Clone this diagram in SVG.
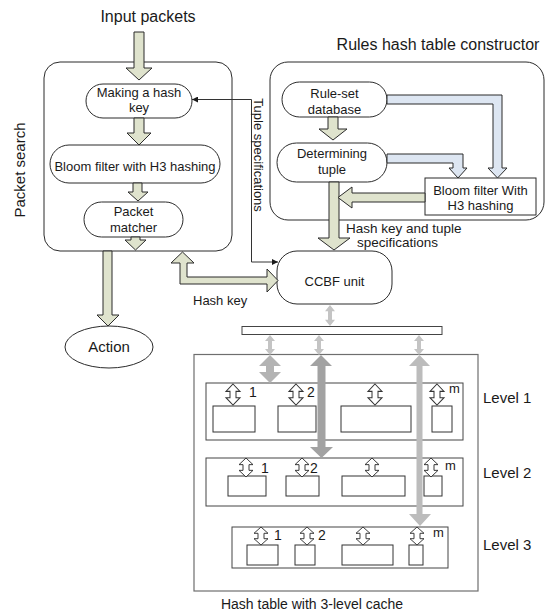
<svg xmlns="http://www.w3.org/2000/svg" xmlns:xlink="http://www.w3.org/1999/xlink" width="545" height="613" viewBox="0 0 545 613">
  <style>
    text { font-family: "Liberation Sans", Arial, sans-serif; fill: #1a1a1a; }
    .t16 { font-size: 16px; }
    .t15 { font-size: 15px; }
    .t14 { font-size: 14px; }
    .t13 { font-size: 13px; }
    .mid { text-anchor: middle; }
    .box { fill: #ffffff; stroke: #2b2b2b; stroke-width: 1; }
    .grp { fill: none; stroke: #2b2b2b; stroke-width: 1; }
    .olive { fill: #dfe3cd; stroke: #2b2b2b; stroke-width: 1; stroke-linejoin: miter; }
    .blue { fill: #dde6f2; stroke: #2b2b2b; stroke-width: 1; }
    .cell { fill: #ffffff; stroke: #333333; stroke-width: 1; }
    .lvl { fill: #ffffff; stroke: #444444; stroke-width: 1; }
    .port { fill: #ffffff; stroke: #333333; stroke-width: 1; }
    .thin { fill: none; stroke: #333333; stroke-width: 1; }
  </style>
  <defs>
    <marker id="tip" viewBox="0 0 10 10" refX="10" refY="5" markerWidth="6" markerHeight="6" orient="auto-start-reverse" markerUnits="userSpaceOnUse">
      <path d="M0,0 L10,5 L0,10 Z" fill="#1a1a1a"/>
    </marker>
    <!-- small hollow two-way port arrow, 20 units tall -->
    <path id="port" d="M0,0 L7,7 L3,7 L3,13 L7,13 L0,20 L-7,13 L-3,13 L-3,7 L-7,7 Z"/>
    <!-- thin grey two-way link, 20 units tall -->
    <path id="link" d="M0,0 L5,6 L2,6 L2,14 L5,14 L0,20 L-5,14 L-2,14 L-2,6 L-5,6 Z"/>
  </defs>

  <!-- titles -->
  <text class="t16 mid" x="148" y="22">Input packets</text>
  <text class="t16 mid" x="438" y="50">Rules hash table constructor</text>
  <text class="t14 mid" x="312" y="609">Hash table with 3-level cache</text>

  <!-- Packet search group -->
  <g id="packet-search">
    <rect class="grp" x="44" y="62" width="188" height="189" rx="16"/>
    <text class="t15 mid" transform="translate(25,170) rotate(-90)">Packet search</text>
  </g>

  <g id="make-hash-key">
    <rect class="box" x="86" y="84" width="106" height="34" rx="17"/>
    <text class="t13 mid" x="139" y="97">Making a hash</text>
    <text class="t13 mid" x="139" y="112">key</text>
  </g>

  <g id="bloom-search">
    <rect class="box" x="50" y="145" width="170" height="38" rx="19"/>
    <text class="t13 mid" x="135" y="171">Bloom filter with H3 hashing</text>
  </g>

  <g id="packet-matcher">
    <rect class="box" x="84" y="202" width="99" height="35" rx="17.5"/>
    <text class="t13 mid" x="133.5" y="216">Packet</text>
    <text class="t13 mid" x="133.5" y="232">matcher</text>
  </g>

  <g id="action">
    <ellipse class="box" cx="109" cy="347" rx="44" ry="21"/>
    <text class="t15 mid" x="109" y="352">Action</text>
  </g>

  <!-- Rules hash table constructor group -->
  <g id="rules-constructor">
    <rect class="grp" x="270" y="62" width="274" height="158" rx="18"/>
  </g>

  <g id="ruleset-db">
    <rect class="box" x="282" y="82" width="105" height="35" rx="17.5"/>
    <text class="t13 mid" x="334.5" y="98">Rule-set</text>
    <text class="t13 mid" x="334.5" y="114">database</text>
  </g>

  <g id="determining-tuple">
    <rect class="box" x="277" y="143" width="110" height="39" rx="19.5"/>
    <text class="t13 mid" x="332" y="158">Determining</text>
    <text class="t13 mid" x="332" y="174">tuple</text>
  </g>

  <g id="bloom-build">
    <rect class="box" x="425" y="178" width="111" height="37"/>
    <text class="t13 mid" x="480.5" y="195">Bloom filter With</text>
    <text class="t13 mid" x="480.5" y="210">H3 hashing</text>
  </g>

  <g id="ccbf">
    <rect class="box" x="277" y="251" width="115" height="53" rx="20"/>
    <text class="t13 mid" x="334.5" y="286">CCBF unit</text>
  </g>

  <!-- Hash table with 3-level cache -->
  <g id="hash-table">
    <rect x="242" y="326.5" width="200" height="8" fill="#ffffff" stroke="#444444" stroke-width="1"/>
    <rect x="194" y="354.5" width="284" height="236.5" fill="none" stroke="#6e6e6e" stroke-width="1.2"/>
  </g>

  <g id="level-1">
    <rect class="lvl" x="206" y="383" width="257" height="57"/>
    <rect class="cell" x="213" y="406" width="42" height="26"/>
    <rect class="cell" x="278" y="406" width="38" height="26"/>
    <rect class="cell" x="341" y="406" width="70" height="26"/>
    <rect class="cell" x="432" y="406" width="20" height="26"/>
    <use href="#port" class="port" transform="translate(233,384) scale(1,1.05)"/>
    <use href="#port" class="port" transform="translate(296,384) scale(1,1.05)"/>
    <use href="#port" class="port" transform="translate(375,384) scale(1,1.05)"/>
    <use href="#port" class="port" transform="translate(437,384) scale(1,1.05)"/>
    <text class="t14" x="249" y="397">1</text>
    <text class="t14" x="307" y="397">2</text>
    <text class="t13" x="449" y="393">m</text>
    <text class="t15" x="483" y="403">Level 1</text>
  </g>

  <g id="level-2">
    <rect class="lvl" x="206" y="458" width="257" height="48"/>
    <rect class="cell" x="228" y="476" width="38" height="20"/>
    <rect class="cell" x="286" y="476" width="33" height="20"/>
    <rect class="cell" x="342" y="476" width="63" height="20"/>
    <rect class="cell" x="424" y="476" width="18" height="20"/>
    <use href="#port" class="port" transform="translate(246,458) scale(1,0.95)"/>
    <use href="#port" class="port" transform="translate(302,458) scale(1,0.95)"/>
    <use href="#port" class="port" transform="translate(372,458) scale(1,0.95)"/>
    <use href="#port" class="port" transform="translate(431,458) scale(1,0.95)"/>
    <text class="t14" x="261" y="473">1</text>
    <text class="t14" x="310" y="473">2</text>
    <text class="t13" x="445" y="470">m</text>
    <text class="t15" x="483" y="478">Level 2</text>
  </g>

  <g id="level-3">
    <rect class="lvl" x="232" y="527" width="216" height="41"/>
    <rect class="cell" x="247" y="545" width="31" height="20"/>
    <rect class="cell" x="295" y="545" width="20" height="20"/>
    <rect class="cell" x="342" y="545" width="51" height="20"/>
    <rect class="cell" x="409" y="545" width="14" height="20"/>
    <use href="#port" class="port" transform="translate(261,527) scale(1,0.9)"/>
    <use href="#port" class="port" transform="translate(307,527) scale(1,0.9)"/>
    <use href="#port" class="port" transform="translate(363,527) scale(1,0.9)"/>
    <use href="#port" class="port" transform="translate(417,527) scale(1,0.9)"/>
    <text class="t14" x="274" y="540">1</text>
    <text class="t14" x="318" y="540">2</text>
    <text class="t13" x="433" y="537">m</text>
    <text class="t15" x="483" y="550">Level 3</text>
  </g>

  <!-- connectors -->
  <g id="connectors">
    <!-- packet search flow -->
    <path class="olive" d="M134,32 L144,32 L144,68 L152,68 L139,80 L126,68 L134,68 Z"/>
    <path class="olive" d="M134,118 L144,118 L144,133 L151,133 L139,145 L127,133 L134,133 Z"/>
    <path class="olive" d="M133,183 L142,183 L142,192 L148,192 L138,201 L128,192 L133,192 Z"/>
    <path class="olive" d="M131,237 L140,237 L140,240 L146,240 L135.5,250 L125,240 L131,240 Z"/>
    <path class="olive" d="M103,251 L112,251 L112,315 L119,315 L108,326 L97,315 L103,315 Z"/>
    <!-- hash key exchange with CCBF -->
    <path class="olive" d="M182.5,252 L194,263 L187,263 L187,277 L267,277 L267,269 L278,280.5 L267,292 L267,284 L180,284 L180,263 L171,263 Z"/>
    <text class="t13" x="193" y="305">Hash key</text>

    <!-- tuple specifications line -->
    <path class="thin" d="M278,262 L251.5,262 L251.5,99.5 L192,99.5" marker-start="url(#tip)" marker-end="url(#tip)"/>
    <text class="t13 mid" transform="translate(254,155) rotate(90)">Tuple specifications</text>

    <!-- rules constructor flow -->
    <path class="olive" d="M328,117 L338,117 L338,129 L347,129 L333,140 L319,129 L328,129 Z"/>
    <path class="olive" d="M329,182 L339,182 L339,238 L350,238 L334,250 L318,238 L329,238 Z"/>
    <path class="olive" d="M425,193 L425,202 L352,202 L352,208 L338,197.5 L352,187 L352,193 Z"/>
    <path class="blue" d="M387,95 L502,95 L502,168 L507,168 L497.5,178 L488,168 L493,168 L493,104 L387,104 Z"/>
    <path class="blue" d="M387,154 L463,154 L463,168 L467,168 L458,178 L449,168 L453,168 L453,163 L387,163 Z"/>
    <text x="346" y="233" font-size="13.5">Hash key and tuple</text>
    <text x="357" y="247" font-size="13.5">specifications</text>

    <!-- CCBF to hash table bus -->
    <use href="#link" fill="#c4c4c4" transform="translate(330,305) scale(1,1.05)"/>
    <use href="#link" fill="#c4c4c4" transform="translate(270,335)"/>
    <use href="#link" fill="#c4c4c4" transform="translate(319,335)"/>
    <use href="#link" fill="#c4c4c4" transform="translate(419,335)"/>

    <!-- bus to cache levels -->
    <path fill="#b3b3b3" d="M270,355 L281,366 L274,366 L274,372 L281,372 L270,383 L259,372 L266,372 L266,366 L259,366 Z"/>
    <path fill="#a2a2a2" d="M321,355 L332,366 L325.5,366 L325.5,447 L333,447 L321.5,458 L310,447 L317.5,447 L317.5,366 L310,366 Z"/>
    <path fill="#bcbcbc" d="M419.5,355 L430,366 L422.5,366 L422.5,514 L431,514 L420,526 L409,514 L416.5,514 L416.5,366 L409,366 Z"/>
  </g>
</svg>
